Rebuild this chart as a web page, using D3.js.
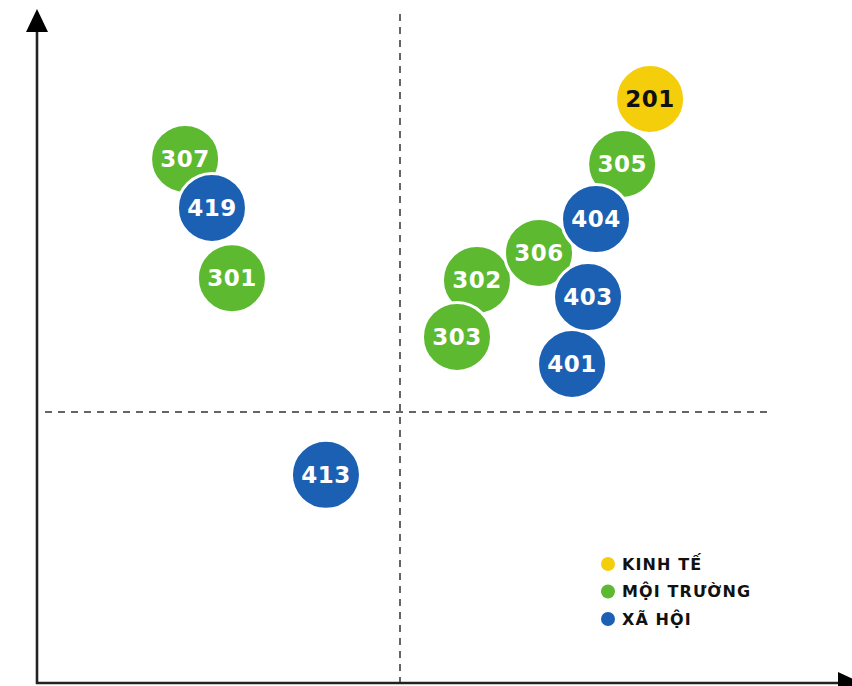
<!DOCTYPE html>
<html><head><meta charset="utf-8">
<script src="https://cdn.jsdelivr.net/npm/d3@7/dist/d3.min.js"></script>
<style>body{margin:0;background:#fff}svg{display:block}</style>
</head><body>
<svg id="chart" width="852" height="686"></svg>
<script>
// Data (arbitrary axis units, origin at the dashed crossing)
const labels = ["201","305","302","303","306","404","401","403","307","419","301","413"];
const groups = ["kt","mt","mt","mt","mt","xh","xh","xh","mt","xh","mt","xh"];
const xVals = [6.89, 6.12, 2.12, 1.57, 3.83, 5.40, 4.74, 5.18, -5.92, -5.18, -4.63, -2.04];
const yVals = [11.55, 9.15, 4.87, 2.77, 5.87, 7.12, 1.77, 4.24, 9.34, 7.53, 4.94, -2.32];
const legendKeys = ["kt","mt","xh"];
const legendLabels = ["KINH TẾ","MỘI TRƯỜNG","XÃ HỘI"];

const colors = {kt:"#F4CD0B", mt:"#5CB930", xh:"#1C60B3"};
const textColors = {kt:"#111", mt:"#fff", xh:"#fff"};

const svg = d3.select("#chart");
const x = d3.scaleLinear().domain([-10,10]).range([37,763]);
const y = d3.scaleLinear().domain([-10,10]).range([683,141]);

// dashed quadrant lines
svg.append("line").attr("x1",x(0)).attr("x2",x(0)).attr("y1",14).attr("y2",686)
  .attr("stroke","#333").attr("stroke-width",1.5).attr("stroke-dasharray","7,6");
svg.append("line").attr("x1",45).attr("x2",768).attr("y1",y(0)).attr("y2",y(0))
  .attr("stroke","#333").attr("stroke-width",1.5).attr("stroke-dasharray","7,6");

// axes
svg.append("line").attr("x1",x(-10)).attr("x2",x(-10)).attr("y1",y(-10)+1).attr("y2",28)
  .attr("stroke","#222").attr("stroke-width",2.6);
svg.append("line").attr("x1",x(-10)-1).attr("x2",840).attr("y1",y(-10)).attr("y2",y(-10))
  .attr("stroke","#222").attr("stroke-width",2.6);
svg.append("path").attr("d",`M${x(-10)},9 L${x(-10)-11},32 L${x(-10)+11},32 Z`).attr("fill","#000");
svg.append("path").attr("d",`M838,${y(-10)-11} L862,${y(-10)} L838,${y(-10)+11} Z`).attr("fill","#000");

// bubbles
const data = labels.map((l,i)=>({label:l, g:groups[i], x:xVals[i], y:yVals[i]}));
const node = svg.append("g").selectAll("g").data(data).join("g")
  .attr("transform",d=>`translate(${x(d.x)},${y(d.y)})`);
node.append("circle").attr("r",34.5).attr("fill",d=>colors[d.g])
  .attr("stroke","#fff").attr("stroke-width",3);
node.append("text").text(d=>d.label).attr("text-anchor","middle").attr("dy","0.36em")
  .attr("font-family","'DejaVu Sans', sans-serif").attr("font-weight",700)
  .attr("font-size",23).attr("letter-spacing",0.5).attr("fill",d=>textColors[d.g]);

// legend
const leg = svg.append("g").attr("transform","translate(608,564)");
legendKeys.forEach((k,i)=>{
  const gg = leg.append("g").attr("transform",`translate(0,${i*27.5})`);
  gg.append("circle").attr("r",7).attr("fill",colors[k]);
  gg.append("text").attr("x",14).attr("dy","0.36em").text(legendLabels[i])
    .attr("font-family","'DejaVu Sans', sans-serif").attr("font-weight",700)
    .attr("font-size",16).attr("letter-spacing",1.1).attr("fill","#111");
});
</script>
</body></html>
